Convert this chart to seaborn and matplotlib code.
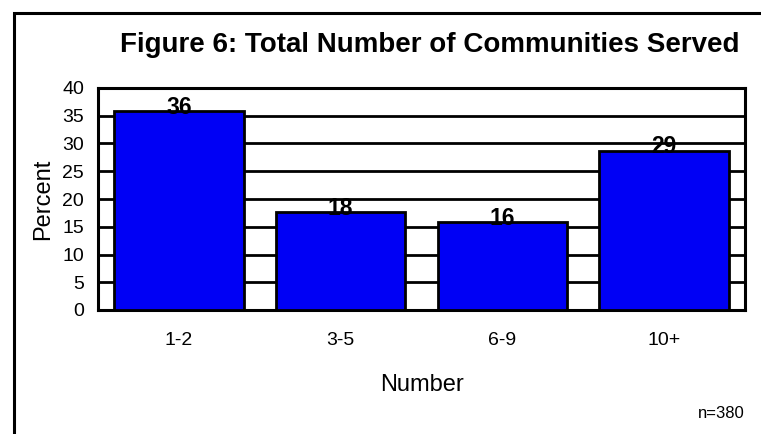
import matplotlib
matplotlib.use("Agg")

import matplotlib.pyplot as plt
import seaborn as sns
import pandas as pd
from matplotlib.patches import Rectangle

# =========================================================
# DATA
# =========================================================

categories = ["1-2", "3-5", "6-9", "10+"]
percents = [35.9, 17.6, 15.8, 28.7]
labels = ["36", "18", "16", "29"]

df = pd.DataFrame({"Number": categories, "Percent": percents})

# =========================================================
# PLOT
# =========================================================

sns.set_style("white")
plt.rcParams["font.family"] = ["Liberation Sans", "DejaVu Sans"]
plt.rcParams["text.color"] = "black"
plt.rcParams["axes.labelcolor"] = "black"
plt.rcParams["xtick.color"] = "black"
plt.rcParams["ytick.color"] = "black"

fig = plt.figure(figsize=(7.61, 4.34), dpi=100)

# outer frame
fig.patches.append(
    Rectangle(
        (14 / 761, -0.05), 1.0, 1 - 13 / 434 + 0.05,
        transform=fig.transFigure,
        fill=False, edgecolor="black", linewidth=2.2
    )
)

ax = fig.add_axes([98 / 761, 1 - 310 / 434, (745 - 98) / 761, (310 - 88) / 434])

sns.barplot(
    data=df,
    x="Number",
    y="Percent",
    color="#0000f5",
    saturation=1,
    width=0.8,
    edgecolor="black",
    linewidth=2,
    zorder=3,
    ax=ax
)

for i, (v, lab) in enumerate(zip(percents, labels)):
    ax.text(
        i, v - 1.4, lab,
        ha="center", va="bottom",
        fontsize=16.5, fontweight="bold", zorder=4
    )

ax.set_ylim(0, 40)
ax.set_yticks(range(0, 41, 5))
ax.yaxis.grid(True, color="black", linewidth=2, zorder=0)
ax.set_axisbelow(True)

for s in ax.spines.values():
    s.set_color("black")
    s.set_linewidth(2.2)

ax.tick_params(axis="both", labelsize=14, length=0)
ax.tick_params(axis="y", pad=10)
ax.tick_params(axis="x", pad=16)

ax.set_xlabel("Number", fontsize=17, labelpad=18)
ax.set_ylabel("Percent", fontsize=17, labelpad=6)

fig.text(
    430 / 761, 1 - 45 / 434,
    "Figure 6: Total Number of Communities Served",
    ha="center", va="center",
    fontsize=20, fontweight="bold"
)

fig.text(
    745 / 761, 1 - 413 / 434, "n=380",
    ha="right", va="center", fontsize=12
)

fig.savefig("out.png", dpi=100)
plt.close()
